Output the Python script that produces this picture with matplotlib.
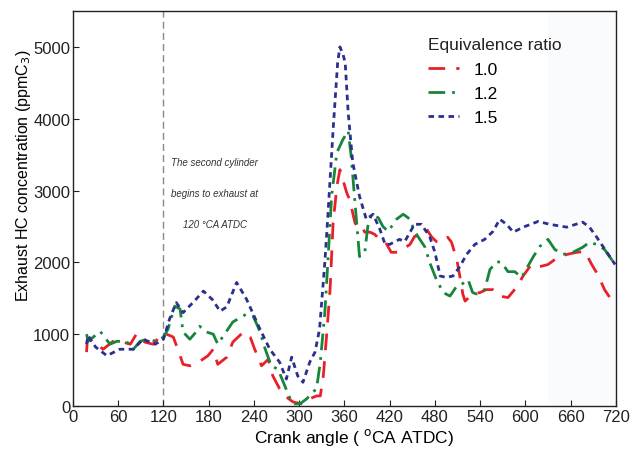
import matplotlib
matplotlib.use('Agg')
import matplotlib.pyplot as plt
import numpy as np

plt.rcParams['font.family'] = ['Liberation Sans', 'DejaVu Sans']

# Equivalence ratio 1.0
x_10 = [18, 19, 27, 40, 53, 66, 76, 84, 95, 106, 118, 124, 133, 139, 146, 155, 168, 179, 186, 192,
        204, 212, 226, 235, 241, 250, 259, 265, 274, 281, 292, 303, 314, 323, 328, 332, 337, 341, 345, 350,
        354, 358, 363, 367, 374, 378, 383, 387, 394, 400, 407, 414, 422, 431, 447, 453, 462, 469, 476, 482,
        489, 497, 502, 509, 513, 517, 520, 530, 540, 548, 557, 566, 577, 588, 597, 608, 619, 630, 643, 655,
        668, 679, 688, 696, 705, 712]
y_10 = [750, 920, 900, 790, 900, 890, 860, 1000, 890, 860, 1000, 1000, 960, 790, 580, 560, 620, 700, 790, 580,
        680, 890, 1030, 960, 790, 560, 650, 420, 240, 140, 55, 30, 100, 140, 140, 420, 1070, 1630, 2550, 3060,
        3290, 3150, 2970, 2870, 2550, 2480, 2500, 2420, 2420, 2390, 2320, 2290, 2140, 2140, 2250, 2360, 2390, 2460, 2350, 2290,
        2280, 2350, 2280, 2040, 1810, 1560, 1460, 1560, 1580, 1620, 1620, 1530, 1510, 1650, 1810, 1970, 1940, 1970, 2070, 2110,
        2140, 2150, 1970, 1830, 1620, 1510]

# Equivalence ratio 1.2
x_12 = [18, 20, 27, 36, 49, 58, 71, 80, 89, 98, 111, 120, 126, 135, 142, 146, 155, 164, 168, 177,
        186, 192, 199, 212, 230, 239, 245, 248, 255, 263, 272, 279, 288, 294, 301, 310, 316, 323, 328, 334,
        338, 343, 350, 358, 365, 369, 374, 380, 387, 391, 396, 405, 411, 418, 429, 438, 447, 453, 460, 467,
        473, 482, 491, 500, 509, 515, 524, 530, 535, 546, 553, 562, 568, 577, 586, 595, 610, 619, 630, 639,
        650, 663, 676, 685, 694, 705, 719]
y_12 = [1000, 900, 960, 1040, 860, 900, 900, 790, 900, 930, 900, 960, 1070, 1390, 1350, 1030, 930, 1040, 1110, 1030,
        1000, 860, 970, 1170, 1280, 1250, 1110, 1030, 790, 560, 510, 330, 100, 30, 30, 100, 170, 240, 610, 1300,
        2000, 2920, 3530, 3710, 3830, 3470, 2830, 2080, 2140, 2500, 2670, 2620, 2500, 2430, 2600, 2670, 2600, 2430, 2320, 2210,
        2000, 1760, 1580, 1530, 1670, 1690, 1760, 1580, 1560, 1620, 1900, 2010, 2000, 1870, 1870, 1790, 2070, 2220, 2320, 2180,
        2110, 2140, 2210, 2280, 2250, 2180, 1970]

# Equivalence ratio 1.5
x_15 = [18, 20, 30, 45, 62, 80, 93, 109, 120, 128, 137, 146, 160, 173, 185, 195, 204, 217, 230, 248,
        261, 274, 283, 290, 298, 305, 314, 321, 327, 334, 338, 345, 351, 354, 358, 361, 365, 371, 380, 389,
        398, 407, 414, 420, 433, 440, 453, 462, 473, 480, 487, 495, 504, 513, 522, 533, 546, 557, 566, 575,
        584, 597, 617, 632, 655, 676, 685, 694, 710, 719]
y_15 = [860, 980, 820, 700, 790, 790, 930, 860, 930, 1210, 1440, 1300, 1450, 1600, 1480, 1320, 1380, 1720, 1490, 1070,
        790, 610, 375, 680, 420, 330, 610, 750, 1070, 2000, 2640, 3850, 4780, 5000, 4900, 4780, 4080, 3390, 2920, 2600,
        2670, 2460, 2250, 2250, 2320, 2290, 2530, 2530, 2360, 2140, 1810, 1790, 1810, 1940, 2110, 2250, 2320, 2430, 2600, 2530,
        2420, 2490, 2570, 2530, 2490, 2560, 2490, 2360, 2110, 1970]

labels = ['1.0', '1.2', '1.5']
x_ticks = list(range(0, 721, 60))
y_ticks = [0, 1000, 2000, 3000, 4000, 5000]

fig = plt.figure(figsize=(6.31, 4.56), dpi=100)
ax = fig.add_axes([0.1157, 0.1075, 0.8603, 0.8662])

# faint scan-like shading on the right
ax.axvspan(630, 720, color='#fafbfd', zorder=0, lw=0)

ax.axvline(120, color='#888888', lw=1.0, ls=(0, (5, 3)), zorder=1)

ax.plot(x_10, y_10, color='#e8202a', lw=2.0, ls=(0, (6, 4)), label=labels[0])
ax.plot(x_12, y_12, color='#17853a', lw=2.0, ls=(0, (6, 2.5, 1, 2.5)), label=labels[1])
ax.plot(x_15, y_15, color='#2b2f8e', lw=2.0, ls=(0, (2, 1.6)), label=labels[2])

note_kw = dict(ha='center', va='center', fontsize=7, style='italic', color='#333333')
ax.text(188, 3400, 'The second cylinder', **note_kw)
ax.text(188, 2970, 'begins to exhaust at', **note_kw)
ax.text(188, 2530, '120 \u00b0CA ATDC', **note_kw)

ax.set_xlim(0, 720)
ax.set_ylim(0, 5500)
ax.set_xticks(x_ticks)
ax.set_yticks(y_ticks)
ax.tick_params(direction='in', labelsize=12, length=4, pad=2, colors='#222222')
for s in ax.spines.values():
    s.set_linewidth(1.0)
    s.set_color('#222222')

ax.set_xlabel(r'Crank angle ( $^{\mathrm{o}}$CA ATDC)', fontsize=12.5)
ax.xaxis.set_label_coords(0.5175, -0.05)
ax.set_ylabel(r'Exhaust HC concentration (ppmC$_3$)', fontsize=11.5)
ax.yaxis.set_label_coords(-0.074, 0.585)

ax.text(470.5, 5028, 'Equivalence ratio', ha='left', va='center', fontsize=12.5, color='#222222')
leg = ax.legend(loc='upper left', bbox_to_anchor=(0.654, 0.870),
                frameon=False, fontsize=12.5, handlelength=1.8,
                handletextpad=0.8, labelspacing=0.5, borderaxespad=0, borderpad=0)

plt.savefig('out.png', dpi=100)
